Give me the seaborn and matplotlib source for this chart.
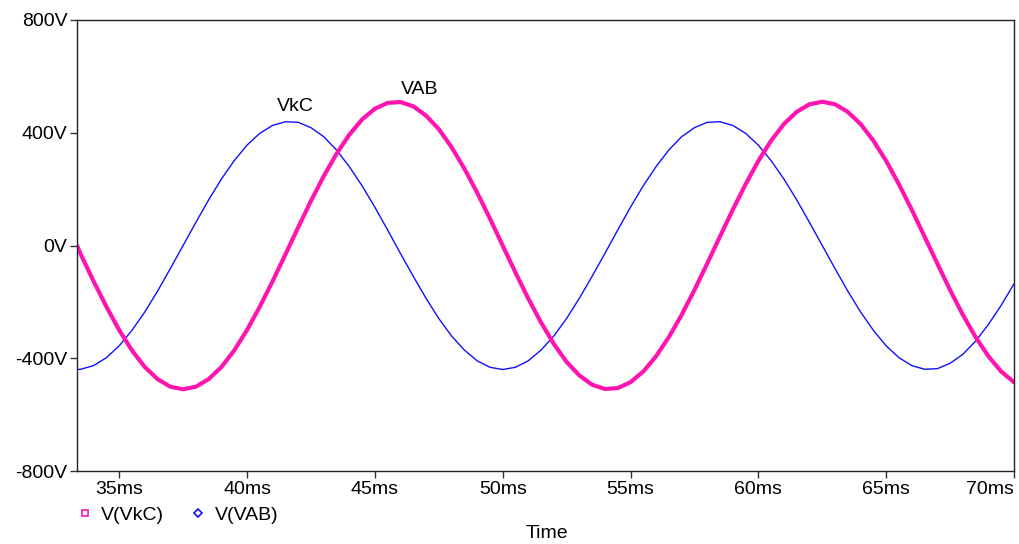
import matplotlib
matplotlib.use("Agg")
import matplotlib.pyplot as plt
from matplotlib.lines import Line2D
import seaborn as sns
import pandas as pd

# Time in ms
time_ms = [33.35, 33.5, 34.0, 34.5, 35.0, 35.5, 36.0, 36.5, 37.0, 37.5, 38.0, 38.5, 39.0, 39.5,
           40.0, 40.5, 41.0, 41.5, 42.0, 42.5, 43.0, 43.5, 44.0, 44.5, 45.0, 45.5, 46.0, 46.5,
           47.0, 47.5, 48.0, 48.5, 49.0, 49.5, 50.0, 50.5, 51.0, 51.5, 52.0, 52.5, 53.0, 53.5,
           54.0, 54.5, 55.0, 55.5, 56.0, 56.5, 57.0, 57.5, 58.0, 58.5, 59.0, 59.5, 60.0, 60.5,
           61.0, 61.5, 62.0, 62.5, 63.0, 63.5, 64.0, 64.5, 65.0, 65.5, 66.0, 66.5, 67.0, 67.5,
           68.0, 68.5, 69.0, 69.5, 70.0]

# V(VkC) trace (blue, thin)
v_vkc = [-440, -439, -426, -398, -356, -301, -236, -162, -82, 0, 82, 162, 236, 301,
         356, 398, 426, 439, 437, 418, 386, 339, 280, 212, 136, 55, -28, -109,
         -187, -259, -321, -371, -409, -432, -440, -432, -409, -371, -321, -259, -187, -109,
         -28, 55, 136, 212, 280, 339, 386, 418, 437, 439, 426, 398, 356, 301,
         236, 162, 82, 0, -82, -162, -236, -301, -356, -398, -426, -439, -437, -418,
         -386, -339, -280, -212, -136]

# V(VAB) trace (magenta, thick)
v_vab = [0, -32, -127, -217, -300, -372, -431, -474, -501, -510, -501, -474, -431, -372,
         -300, -217, -127, -32, 64, 158, 246, 325, 393, 447, 485, 506, 509, 494,
         461, 413, 349, 273, 188, 96, 0, -96, -188, -273, -349, -413, -461, -494,
         -509, -506, -485, -447, -393, -325, -246, -158, -64, 32, 127, 217, 300, 372,
         431, 474, 501, 510, 501, 474, 431, 372, 300, 217, 127, 32, -64, -158,
         -246, -325, -393, -447, -485]

y_ticks = [-800, -400, 0, 400, 800]
y_tick_labels = ["-800V", "-400V", "0V", "400V", "800V"]
x_ticks = [35, 40, 45, 50, 55, 60, 65, 70]
x_tick_labels = ["35ms", "40ms", "45ms", "50ms", "55ms", "60ms", "65ms", "70ms"]

BLUE = "#1010ff"
MAGENTA = "#ff14b0"
FS = 14

sns.set_theme(style="ticks")
plt.rcParams["font.family"] = ["Liberation Sans", "DejaVu Sans"]
plt.rcParams["text.color"] = "black"
plt.rcParams["axes.labelcolor"] = "black"

df = pd.DataFrame({"t": time_ms, "vkc": v_vkc, "vab": v_vab})

fig = plt.figure(figsize=(10.2, 5.44), dpi=100)
ax = fig.add_axes([77 / 1020, 1 - 471 / 544, (1014 - 77) / 1020, (471 - 20) / 544])

sns.lineplot(data=df, x="t", y="vkc", ax=ax, color=BLUE, linewidth=1.0, sort=False)
sns.lineplot(data=df, x="t", y="vab", ax=ax, color=MAGENTA, linewidth=3.0, sort=False)

ax.set_xlim(33.35, 70.0)
ax.set_ylim(-800, 800)
ax.set_xticks(x_ticks)
ax.set_xticklabels(x_tick_labels)
ax.set_yticks(y_ticks)
ax.set_yticklabels(y_tick_labels)
ax.tick_params(axis="both", labelsize=FS, length=5, width=1, color="#333333",
               labelcolor="black", direction="out", pad=2)
ax.set_xlabel("")
ax.set_ylabel("")
for s in ax.spines.values():
    s.set_color("#222222")
    s.set_linewidth(1.0)
    s.set_visible(True)

labels = ax.get_xticklabels()
labels[-1].set_horizontalalignment("right")
labels[-1].set_x(70.0)

ax.text(41.9, 463, "VkC", fontsize=FS, ha="center", va="bottom", color="black")
ax.text(46.75, 525, "VAB", fontsize=FS, ha="center", va="bottom", color="black")

fig.text(547 / 1020, 1 - 533 / 544, "Time", fontsize=FS, ha="center", va="center",
         color="black")

handles = [
    Line2D([], [], linestyle="none", marker="s", markersize=5, markerfacecolor="none",
           markeredgecolor=MAGENTA, markeredgewidth=1.2),
    Line2D([], [], linestyle="none", marker="D", markersize=4, markerfacecolor="none",
           markeredgecolor=BLUE, markeredgewidth=1.2),
]
leg = fig.legend(handles, ["V(VkC)", "V(VAB)"], ncol=2, loc="center left",
                 bbox_to_anchor=(77 / 1020, 1 - 515 / 544), frameon=False, fontsize=FS,
                 handlelength=0.8, handletextpad=0.45, columnspacing=1.35, borderpad=0,
                 borderaxespad=0)
for t in leg.get_texts():
    t.set_color("black")

fig.savefig("out.png", dpi=100)
